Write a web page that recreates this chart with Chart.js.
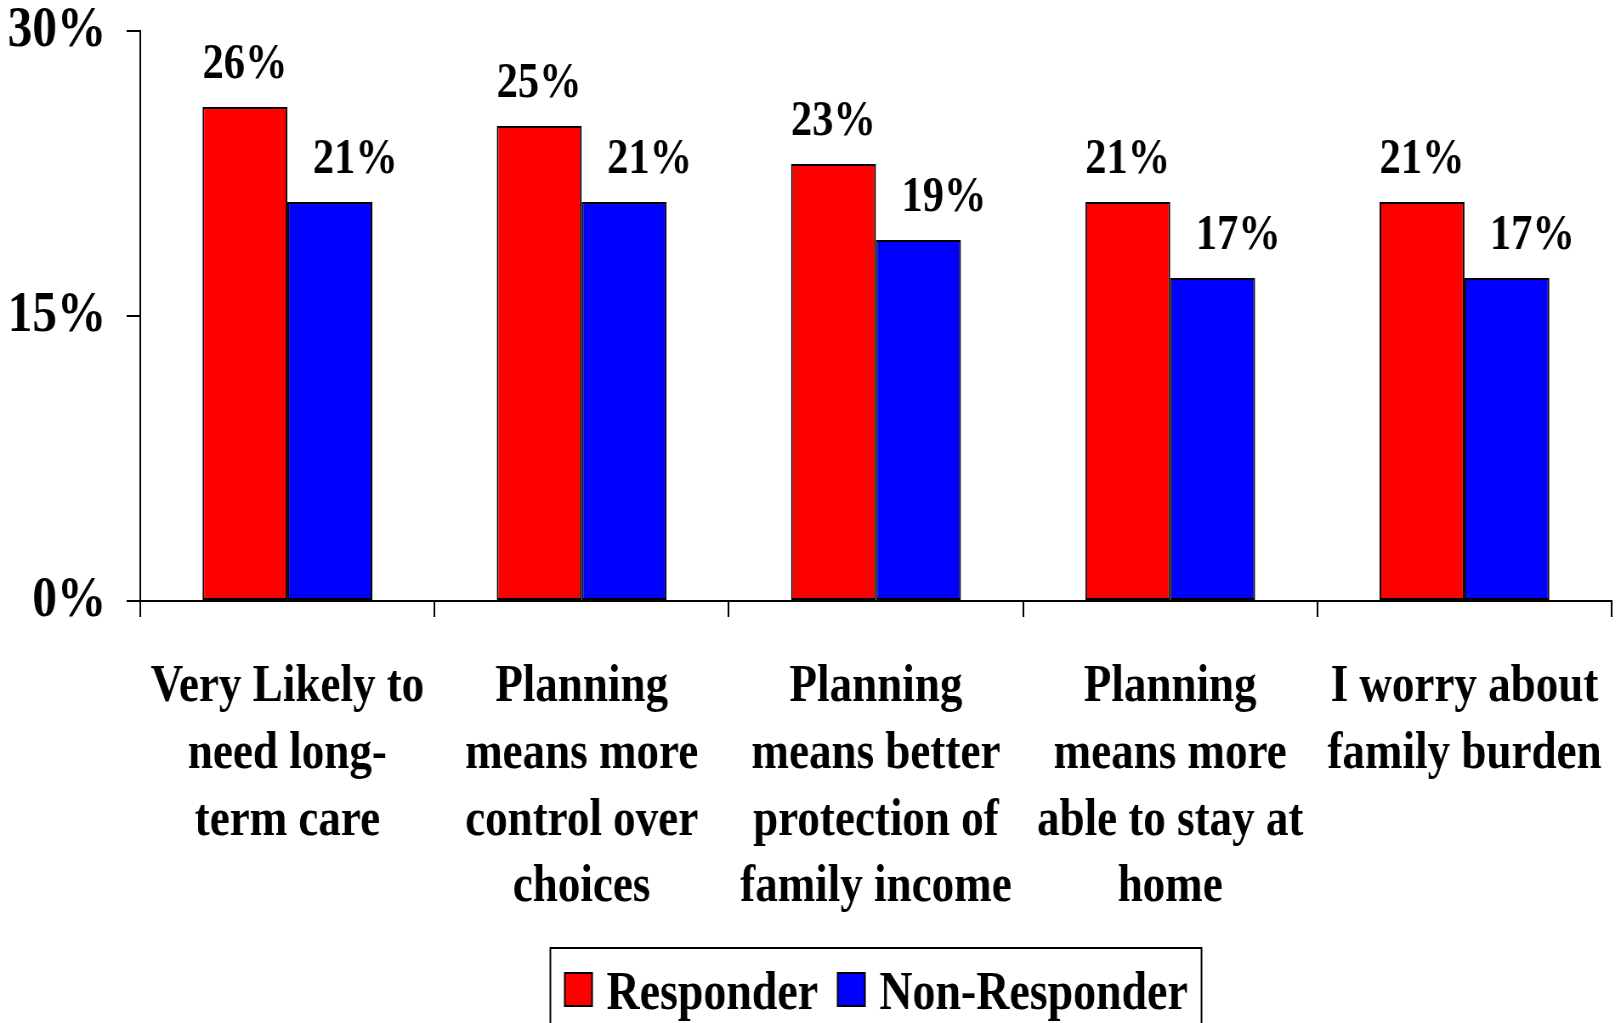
<!DOCTYPE html>
<html>
<head>
<meta charset="utf-8">
<script src="https://cdn.jsdelivr.net/npm/chart.js@4"></script>
<style>
  html, body { margin: 0; padding: 0; background: #fff; overflow: hidden; }
  #wrap { width: 1617px; height: 1023px; overflow: hidden; }
  /* the reference type is narrow, so the whole canvas is squeezed sideways */
  #chart { display: block; transform: scaleX(0.85); transform-origin: 0 0; }
</style>
</head>
<body>
<div id="wrap"><canvas id="chart" width="1902" height="1023"></canvas></div>
<script>
// data
const categories = [
  ['Very Likely to', 'need long-', 'term care'],
  ['Planning', 'means more', 'control over', 'choices'],
  ['Planning', 'means better', 'protection of', 'family income'],
  ['Planning', 'means more', 'able to stay at', 'home'],
  ['I worry about', 'family burden']
];
const seriesNames = ['Responder', 'Non-Responder'];
const responder = [26, 25, 23, 21, 21];
const nonResponder = [21, 21, 19, 17, 17];
const yTicks = [0, 15, 30];

const serif = '"Liberation Serif", "Times New Roman", serif';
const colors = { red: '#ff0000', blue: '#0000ff', ink: '#000000' };

// value labels above the bars
const valueLabels = {
  id: 'valueLabels',
  afterDatasetsDraw(chart) {
    const ctx = chart.ctx;
    ctx.save();
    ctx.font = 'bold 50px ' + serif;
    ctx.fillStyle = colors.ink;
    ctx.textAlign = 'center';
    ctx.textBaseline = 'alphabetic';
    chart.data.datasets.forEach((ds, i) => {
      const nudge = i === 1 ? 30 : 0;
      chart.getDatasetMeta(i).data.forEach((bar, j) => {
        ctx.fillText(ds.data[j] + '%', bar.x + nudge, bar.y - 29);
      });
    });
    ctx.restore();
  }
};

// boxed legend at the bottom, running off the page edge like the original
const boxLegend = {
  id: 'boxLegend',
  afterDraw(chart) {
    const ctx = chart.ctx;
    const area = chart.chartArea;
    ctx.save();
    ctx.font = 'bold 54px ' + serif;
    const sq = 32, padL = 17, gapTxt = 17, gapItem = 23, padR = 16;
    const items = chart.data.datasets.map(ds => ({
      label: ds.label, color: ds.backgroundColor, w: ctx.measureText(ds.label).width
    }));
    let total = padL + padR;
    items.forEach((it, i) => { total += sq + gapTxt + it.w + (i < items.length - 1 ? gapItem : 0); });
    const left = (area.left + area.right) / 2 - total / 2;
    const top = 948;

    ctx.lineWidth = 2;
    ctx.strokeStyle = colors.ink;
    ctx.strokeRect(left, top, total, 120);

    let x = left + padL;
    items.forEach(it => {
      ctx.fillStyle = it.color;
      ctx.fillRect(x, 973, sq, 33);
      ctx.strokeRect(x, 973, sq, 33);
      x += sq + gapTxt;
      ctx.fillStyle = colors.ink;
      ctx.textAlign = 'left';
      ctx.textBaseline = 'alphabetic';
      ctx.fillText(it.label, x, 1009);
      x += it.w + gapItem;
    });
    ctx.restore();
  }
};

new Chart(document.getElementById('chart'), {
  type: 'bar',
  data: {
    labels: categories,
    datasets: [
      {
        label: seriesNames[0],
        data: responder,
        backgroundColor: colors.red,
        borderColor: colors.ink,
        borderWidth: 2,
        borderSkipped: false
      },
      {
        label: seriesNames[1],
        data: nonResponder,
        backgroundColor: colors.blue,
        borderColor: colors.ink,
        borderWidth: 2,
        borderSkipped: false
      }
    ]
  },
  options: {
    responsive: false,
    animation: false,
    devicePixelRatio: 1,
    layout: { padding: { top: 31, right: 6, left: 0, bottom: 0 } },
    datasets: { bar: { categoryPercentage: 0.577, barPercentage: 1 } },
    plugins: {
      legend: { display: false },
      tooltip: { enabled: false }
    },
    scales: {
      x: {
        afterFit(scale) {
          scale.height = 422;
          scale.paddingLeft = 0;
          scale.paddingRight = 0;
        },
        border: { display: true, color: colors.ink, width: 2 },
        grid: {
          offset: true,
          drawOnChartArea: false,
          drawTicks: true,
          tickLength: 16,
          color: colors.ink,
          lineWidth: 2
        },
        ticks: {
          color: colors.ink,
          font: { family: serif, size: 53, weight: 'bold', lineHeight: 1.26 },
          padding: 37,
          maxRotation: 0,
          minRotation: 0,
          autoSkip: false
        }
      },
      y: {
        min: 0,
        max: 30,
        afterFit(scale) {
          scale.width = 165;
          scale.paddingTop = 0;
          scale.paddingBottom = 0;
        },
        afterBuildTicks(scale) { scale.ticks = yTicks.map(v => ({ value: v })); },
        border: { display: true, color: colors.ink, width: 2 },
        grid: {
          drawOnChartArea: false,
          drawTicks: true,
          tickLength: 16,
          color: colors.ink,
          lineWidth: 2
        },
        ticks: {
          color: colors.ink,
          font: { family: serif, size: 58, weight: 'bold' },
          padding: 24,
          callback: v => v + '%'
        }
      }
    }
  },
  plugins: [valueLabels, boxLegend]
});
</script>
</body>
</html>
